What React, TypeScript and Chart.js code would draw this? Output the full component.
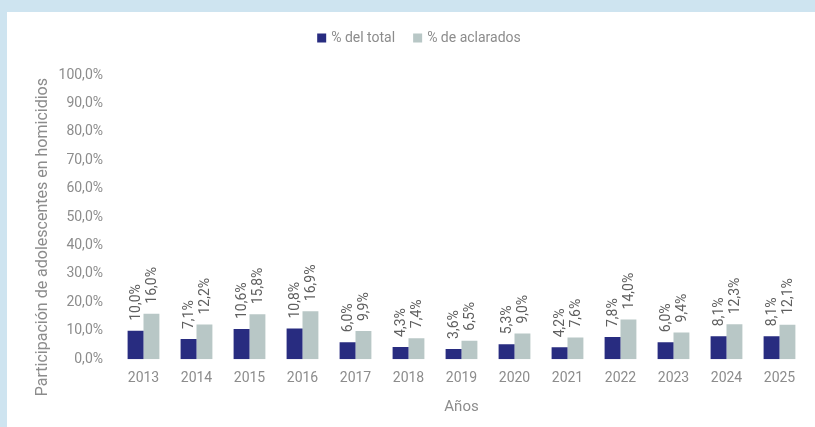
import React, { useEffect, useRef } from "react";
import { Chart, registerables } from "chart.js";

Chart.register(...registerables);

const years = ["2013", "2014", "2015", "2016", "2017", "2018", "2019", "2020", "2021", "2022", "2023", "2024", "2025"];
const pctTotal = [10.0, 7.1, 10.6, 10.8, 6.0, 4.3, 3.6, 5.3, 4.2, 7.8, 6.0, 8.1, 8.1];
const pctAclarados = [16.0, 12.2, 15.8, 16.9, 9.9, 7.4, 6.5, 9.0, 7.6, 14.0, 9.4, 12.3, 12.1];
const seriesNames = ["% del total", "% de aclarados"];
const yTitle = "Participación de adolescentes en homicidios";
const xTitle = "Años";

const FONT = "Roboto, 'DejaVu Sans Condensed', sans-serif";
const NAVY = "#282c80";
const GREY = "#b8c7c6";
const TEXT = "#8c8c8c";
const LABEL = "#5f5f5f";

const fmt = (v: number) => v.toFixed(1).replace(".", ",") + "%";

const barLabels = {
  id: "barLabels",
  afterDatasetsDraw(chart: any) {
    const ctx = chart.ctx;
    ctx.save();
    ctx.font = `14px ${FONT}`;
    ctx.fillStyle = LABEL;
    ctx.textAlign = "left";
    ctx.textBaseline = "middle";
    chart.data.datasets.forEach((ds: any, di: number) => {
      const meta = chart.getDatasetMeta(di);
      meta.data.forEach((bar: any, i: number) => {
        ctx.save();
        ctx.translate(bar.x + 1, bar.y - 10);
        ctx.rotate(-Math.PI / 2);
        ctx.fillText(fmt(ds.data[i]), 0, 0);
        ctx.restore();
      });
    });
    ctx.restore();
  },
};

const yTitlePlugin = {
  id: "yTitlePlugin",
  afterDraw(chart: any) {
    const ctx = chart.ctx;
    const a = chart.chartArea;
    ctx.save();
    ctx.font = `16px ${FONT}`;
    ctx.fillStyle = TEXT;
    ctx.textAlign = "center";
    ctx.textBaseline = "middle";
    ctx.translate(36, (a.top + a.bottom) / 2 + 20);
    ctx.rotate(-Math.PI / 2);
    ctx.fillText(yTitle, 0, 0);
    ctx.restore();
  },
};

const legendPlugin = {
  id: "customLegend",
  afterDraw(chart: any) {
    const ctx = chart.ctx;
    const colors = chart.data.datasets.map((d: any) => d.backgroundColor);
    const names = chart.data.datasets.map((d: any) => d.label);
    ctx.save();
    ctx.font = `14px ${FONT}`;
    ctx.textBaseline = "middle";
    ctx.textAlign = "left";
    const box = 9, gapBox = 5, gapItem = 18;
    const widths = names.map((n: string) => ctx.measureText(n).width);
    const total = widths.reduce((s: number, w: number) => s + box + gapBox + w, 0) + gapItem * (names.length - 1);
    let x = chart.width / 2 - total / 2 + 8;
    const y = 26;
    names.forEach((n: string, i: number) => {
      ctx.fillStyle = colors[i];
      ctx.fillRect(x, y - box / 2, box, box);
      x += box + gapBox;
      ctx.fillStyle = TEXT;
      ctx.fillText(n, x, y);
      x += widths[i] + gapItem;
    });
    ctx.restore();
  },
};

export default function App() {
  const ref = useRef<HTMLCanvasElement | null>(null);
  useEffect(() => {
    if (!ref.current) return;
    const chart = new Chart(ref.current, {
      type: "bar",
      data: {
        labels: years,
        datasets: [
          { label: seriesNames[0], data: pctTotal, backgroundColor: NAVY, categoryPercentage: 0.6, barPercentage: 1.0 },
          { label: seriesNames[1], data: pctAclarados, backgroundColor: GREY, categoryPercentage: 0.6, barPercentage: 1.0 },
        ],
      },
      options: {
        animation: false,
        responsive: false,
        maintainAspectRatio: false,
        layout: { padding: { top: 63, right: 9, bottom: 7, left: 0 } },
        plugins: {
          legend: { display: false },
          tooltip: { enabled: false },
        },
        scales: {
          x: {
            grid: { display: false, drawTicks: false },
            border: { display: false },
            ticks: { color: TEXT, font: { family: FONT, size: 14 }, padding: 11 },
            title: { display: true, text: xTitle, color: TEXT, font: { family: FONT, size: 15 }, padding: { top: 0, bottom: 4 } },
          },
          y: {
            min: 0,
            max: 100,
            grid: { display: false, drawTicks: false },
            border: { display: false },
            ticks: { stepSize: 10, color: TEXT, font: { family: FONT, size: 14 }, padding: 14, callback: (v: any) => fmt(Number(v)) },
            afterFit: (s: any) => { s.width = 110; },
          },
        },
      },
      plugins: [barLabels, yTitlePlugin, legendPlugin],
    });
    return () => chart.destroy();
  }, []);
  return (
    <div style={{ position: "fixed", left: 0, top: 0, width: 815, height: 427, background: "#cee4f0" }}>
      <div style={{ position: "absolute", left: 7, top: 12, width: 808, height: 415, background: "#ffffff" }}>
        <canvas ref={ref} width={808} height={415} style={{ display: "block" }} />
      </div>
    </div>
  );
}
